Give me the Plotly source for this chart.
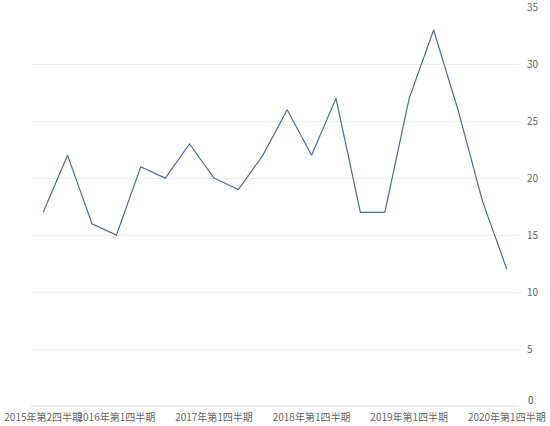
import plotly.graph_objects as go

categories = [
    "2015年第2四半期", "2015年第3四半期", "2015年第4四半期",
    "2016年第1四半期", "2016年第2四半期", "2016年第3四半期", "2016年第4四半期",
    "2017年第1四半期", "2017年第2四半期", "2017年第3四半期", "2017年第4四半期",
    "2018年第1四半期", "2018年第2四半期", "2018年第3四半期", "2018年第4四半期",
    "2019年第1四半期", "2019年第2四半期", "2019年第3四半期", "2019年第4四半期",
    "2020年第1四半期",
]
values = [17, 22, 16, 15, 21, 20, 23, 20, 19, 22, 26, 22, 27, 17, 17, 27, 33, 26, 18, 12]
shown_ticks = ["2015年第2四半期", "2016年第1四半期", "2017年第1四半期",
               "2018年第1四半期", "2019年第1四半期", "2020年第1四半期"]
y_ticks = [0, 5, 10, 15, 20, 25, 30, 35]

fig = go.Figure(go.Scatter(
    x=categories, y=values, mode="lines",
    line=dict(color="#4e6c99", width=1.2),
    hoverinfo="x+y",
))

# Zero tick label drawn slightly raised (as in the reference) to avoid the x labels
fig.add_annotation(
    xref="paper", x=1, yref="y", y=y_ticks[0], text=str(y_ticks[0]),
    showarrow=False, xanchor="left", yanchor="middle", xshift=7, yshift=7,
    font=dict(family="Noto Sans CJK JP", size=10, color="#666666"),
)

fig.update_layout(
    width=550, height=426,
    margin=dict(l=31, r=31, t=7, b=20),
    paper_bgcolor="white", plot_bgcolor="white",
    font=dict(family="Noto Sans CJK JP", size=10, color="#666666"),
    showlegend=False,
    xaxis=dict(
        type="category", range=[-0.5, 19.5], automargin=False,
        tickmode="array", tickvals=shown_ticks, ticktext=shown_ticks,
        showgrid=False, showline=False, zeroline=False, ticks="",
        tickangle=0, ticklabelstandoff=4,
    ),
    yaxis=dict(
        side="right", range=[0, 35.02], tickvals=y_ticks,
        ticktext=[""] + [str(v) for v in y_ticks[1:]], automargin=False,
        showgrid=True, gridcolor="#eeeeee", gridwidth=1,
        zeroline=True, zerolinecolor="#eeeeee", showline=False, ticks="",
        ticklabeloverflow="allow", ticklabelstandoff=7,
    ),
)

fig.write_html("out.html", config={"displayModeBar": False},
               post_script="document.body.style.margin='0';")
